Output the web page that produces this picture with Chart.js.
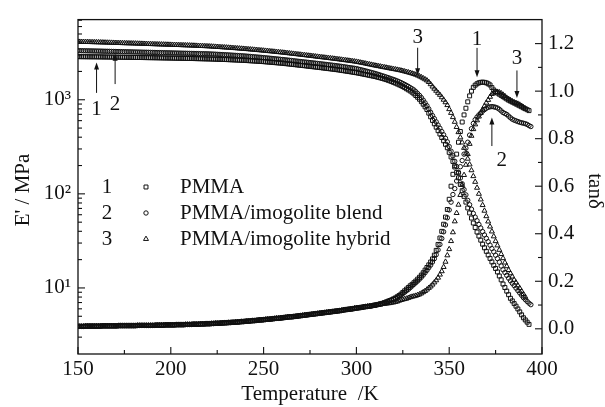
<!DOCTYPE html>
<html>
<head>
<meta charset="utf-8">
<script src="https://cdn.jsdelivr.net/npm/chart.js@4.4.1/dist/chart.umd.min.js"></script>
<style>
  html, body { margin: 0; padding: 0; background: #fff; }
  canvas { display: block; }
</style>
</head>
<body>
<canvas id="dma" width="605" height="407"></canvas>
<script>
// Dynamic mechanical analysis: storage modulus E' (log, left) and tan delta (right)
// for PMMA (1), PMMA/imogolite blend (2) and PMMA/imogolite hybrid (3).

const temperature = [
  150,151,152,153,154,155,156,157,158,159,
  160,161,162,163,164,165,166,167,168,169,
  170,171,172,173,174,175,176,177,178,179,
  180,181,182,183,184,185,186,187,188,189,
  190,191,192,193,194,195,196,197,198,199,
  200,201,202,203,204,205,206,207,208,209,
  210,211,212,213,214,215,216,217,218,219,
  220,221,222,223,224,225,226,227,228,229,
  230,231,232,233,234,235,236,237,238,239,
  240,241,242,243,244,245,246,247,248,249,
  250,251,252,253,254,255,256,257,258,259,
  260,261,262,263,264,265,266,267,268,269,
  270,271,272,273,274,275,276,277,278,279,
  280,281,282,283,284,285,286,287,288,289,
  290,291,292,293,294,295,296,297,298,299,
  300,301,302,303,304,305,306,307,308,309,
  310,311,312,313,314,315,316,317,318,319,
  320,321,322,323,324,325,326,327,328,329,
  330,331,332,333,334,335,336,337,338,339,
  340,341,342,343,344,345,346,347,348,349,
  350,351,352,353,354,355,356,357,358,359,
  360,361,362,363,364,365,366,367,368,369,
  370,371,372,373,374,375,376,377,378,379,
  380,381,382,383,384,385,386,387,388,389,
  390,391,392,393,394
];

// E' / MPa
const storagePMMA = [
  2871,2870,2868,2867,2866,2864,2863,2862,2860,2859,
  2858,2856,2854,2852,2850,2848,2846,2844,2842,2840,
  2838,2836,2834,2832,2830,2828,2826,2824,2822,2820,
  2818,2816,2814,2812,2810,2808,2806,2804,2802,2800,
  2799,2796,2794,2791,2789,2786,2783,2781,2778,2776,
  2773,2770,2768,2765,2763,2760,2758,2755,2753,2750,
  2748,2745,2742,2738,2735,2732,2729,2726,2722,2719,
  2716,2712,2708,2703,2699,2695,2690,2686,2682,2677,
  2673,2668,2662,2657,2651,2646,2640,2635,2629,2624,
  2618,2610,2603,2595,2587,2580,2572,2564,2556,2549,
  2541,2531,2521,2511,2502,2492,2482,2472,2462,2453,
  2443,2431,2419,2407,2395,2383,2371,2359,2347,2335,
  2323,2311,2299,2287,2275,2263,2251,2239,2227,2215,
  2203,2191,2178,2166,2154,2142,2129,2117,2105,2092,
  2080,2066,2051,2037,2022,2008,1994,1979,1965,1950,
  1936,1919,1902,1885,1868,1851,1834,1817,1800,1783,
  1766,1746,1726,1705,1684,1661,1638,1614,1588,1560,
  1531,1503,1472,1442,1413,1380,1346,1309,1274,1239,
  1202,1156,1109,1062,1012,955,897,841,787,721,
  659,603,555,511,469,432,397,366,336,309,
  276,247,221,193,169,148,126,108,94.0,81.7,
  70.8,62.7,55.3,49.0,43.9,39.3,35.6,32.2,29.2,26.7,
  24.5,22.4,20.6,18.9,17.4,16.1,14.8,13.4,12.2,11.0,
  10.1,9.25,8.47,7.76,7.28,6.82,6.40,5.98,5.57,5.18,
  4.82,4.57,4.33,4.10,null
];

const storageBlend = [
  3327,3324,3321,3318,3315,3312,3308,3305,3302,3299,
  3296,3292,3288,3284,3280,3277,3273,3269,3265,3262,
  3258,3254,3250,3247,3243,3239,3236,3232,3228,3225,
  3221,3217,3214,3210,3206,3203,3199,3195,3192,3188,
  3184,3180,3177,3173,3170,3166,3162,3159,3155,3152,
  3148,3144,3141,3137,3134,3130,3126,3123,3119,3116,
  3112,3108,3105,3101,3098,3094,3090,3087,3083,3080,
  3076,3069,3062,3055,3048,3041,3034,3027,3020,3013,
  3006,2997,2988,2979,2970,2962,2953,2944,2935,2926,
  2917,2906,2895,2884,2872,2861,2850,2839,2828,2816,
  2805,2792,2780,2767,2755,2742,2729,2717,2704,2692,
  2679,2666,2653,2640,2626,2613,2600,2587,2574,2560,
  2547,2534,2522,2509,2496,2484,2471,2459,2446,2434,
  2421,2408,2395,2382,2369,2356,2343,2330,2317,2304,
  2291,2276,2261,2247,2232,2217,2202,2187,2173,2158,
  2143,2119,2095,2071,2048,2024,2000,1976,1952,1929,
  1905,1879,1852,1826,1799,1773,1747,1720,1694,1667,
  1641,1614,1585,1556,1524,1489,1455,1419,1384,1346,
  1309,1271,1219,1164,1112,1054,991,927,865,800,
  736,679,630,582,538,498,459,424,390,357,
  318,284,254,222,195,170,147,128,111,97.5,
  85.3,76.6,68.7,61.9,56.6,51.8,47.3,43.4,39.7,36.6,
  33.7,31.0,28.5,26.2,24.2,22.3,20.5,18.8,17.1,15.6,
  14.6,13.6,12.7,11.9,11.2,10.6,9.95,9.38,8.85,8.36,
  7.89,7.53,7.19,6.89,6.64
];

const storageHybrid = [
  4130,4125,4121,4116,4111,4107,4102,4097,4092,4088,
  4083,4077,4070,4064,4057,4051,4044,4038,4031,4025,
  4018,4013,4007,4002,3996,3991,3985,3980,3974,3969,
  3963,3957,3950,3944,3937,3931,3925,3918,3912,3905,
  3899,3893,3887,3880,3874,3868,3862,3856,3849,3843,
  3837,3831,3825,3819,3813,3807,3800,3794,3788,3782,
  3776,3768,3760,3753,3745,3737,3729,3721,3714,3706,
  3698,3687,3676,3665,3654,3644,3633,3622,3611,3600,
  3589,3577,3565,3552,3540,3528,3516,3504,3491,3479,
  3467,3453,3439,3425,3411,3397,3383,3369,3355,3341,
  3327,3312,3297,3282,3267,3252,3237,3222,3207,3192,
  3177,3161,3144,3128,3111,3095,3079,3062,3046,3029,
  3013,2997,2981,2964,2948,2932,2916,2900,2883,2867,
  2851,2836,2820,2805,2790,2775,2759,2744,2729,2713,
  2698,2682,2665,2649,2633,2617,2600,2584,2568,2551,
  2535,2513,2490,2468,2446,2424,2401,2379,2357,2334,
  2312,2293,2273,2254,2234,2215,2196,2176,2157,2137,
  2118,2104,2084,2065,2046,2023,2000,1977,1954,1928,
  1901,1875,1845,1811,1774,1734,1690,1648,1603,1542,
  1462,1380,1309,1245,1183,1127,1062,1000,940,877,
  794,724,653,582,513,452,398,351,308,269,
  236,205,178,154,134,116,100,87.1,75.9,66.1,
  57.8,50.8,44.9,39.8,35.3,31.4,28.3,25.4,22.9,20.7,
  18.6,17.0,15.5,14.3,13.2,12.2,11.4,10.6,9.95,9.23,
  8.61,8.04,null,null,null
];

// tan delta, glassy region 150-309 K (the three samples coincide here)
const tanGlassy = [
  0.010,0.010,0.010,0.010,0.011,0.011,0.011,0.011,0.011,0.011,
  0.011,0.011,0.011,0.012,0.012,0.012,0.012,0.012,0.012,0.012,
  0.012,0.012,0.013,0.013,0.013,0.013,0.013,0.013,0.013,0.013,
  0.013,0.013,0.014,0.014,0.014,0.014,0.014,0.014,0.014,0.014,
  0.014,0.014,0.015,0.015,0.015,0.015,0.015,0.016,0.016,0.016,
  0.016,0.016,0.016,0.017,0.017,0.017,0.017,0.017,0.018,0.018,
  0.018,0.018,0.019,0.019,0.019,0.019,0.020,0.020,0.020,0.021,
  0.021,0.021,0.022,0.022,0.023,0.023,0.023,0.024,0.024,0.025,
  0.025,0.026,0.026,0.027,0.027,0.028,0.028,0.029,0.030,0.030,
  0.031,0.032,0.032,0.033,0.034,0.034,0.035,0.036,0.037,0.037,
  0.038,0.039,0.040,0.040,0.041,0.042,0.043,0.044,0.044,0.045,
  0.046,0.047,0.048,0.049,0.050,0.050,0.051,0.052,0.053,0.054,
  0.055,0.056,0.057,0.058,0.059,0.060,0.061,0.062,0.063,0.064,
  0.065,0.066,0.067,0.068,0.069,0.070,0.071,0.072,0.073,0.074,
  0.075,0.076,0.077,0.079,0.080,0.081,0.082,0.083,0.084,0.086,
  0.087,0.088,0.089,0.090,0.092,0.093,0.094,0.095,0.096,0.098
];

// tan delta, 310 K upwards
const tanPMMAHigh = [
  0.099,0.101,0.103,0.105,0.107,0.110,0.113,0.116,0.119,0.122,
  0.126,0.130,0.135,0.140,0.146,0.153,0.160,0.167,0.174,0.181,
  0.187,0.194,0.201,0.209,0.217,0.226,0.236,0.247,0.258,0.269,
  0.281,0.294,0.310,0.330,0.355,0.382,0.410,0.440,0.470,0.502,
  0.545,0.600,0.650,0.686,0.735,0.785,0.830,0.870,0.900,0.928,
  0.955,0.980,1.000,1.016,1.025,1.031,1.035,1.037,1.038,1.037,
  1.035,1.031,1.026,1.015,1.005,0.998,0.992,0.987,0.982,0.977,
  0.972,0.967,0.962,0.958,0.954,0.950,0.946,0.942,0.938,0.934,
  0.930,0.926,0.922,0.918,null
];

const tanBlendHigh = [
  0.099,0.101,0.103,0.105,0.107,0.109,0.112,0.115,0.118,0.121,
  0.124,0.128,0.132,0.137,0.142,0.148,0.154,0.160,0.166,0.173,
  0.180,0.187,0.194,0.201,0.209,0.217,0.226,0.236,0.246,0.257,
  0.268,0.281,0.295,0.312,0.332,0.355,0.380,0.408,0.437,0.467,
  0.500,0.533,0.565,0.590,0.622,0.655,0.682,0.708,0.735,0.760,
  0.785,0.815,0.842,0.864,0.880,0.891,0.900,0.908,0.916,0.922,
  0.928,0.932,0.934,0.935,0.934,0.932,0.929,0.924,0.917,0.910,
  0.906,0.902,0.895,0.888,0.882,0.878,0.875,0.872,0.869,0.867,
  0.865,0.863,0.860,0.855,0.851
];

const tanHybridHigh = [
  0.099,0.100,0.101,0.102,0.104,0.105,0.106,0.107,0.108,0.110,
  0.111,0.113,0.115,0.118,0.121,0.123,0.125,0.127,0.130,0.133,
  0.135,0.137,0.139,0.142,0.145,0.149,0.154,0.159,0.165,0.172,
  0.178,0.186,0.195,0.204,0.215,0.228,0.242,0.260,0.282,0.309,
  0.335,0.369,0.406,0.452,0.487,0.522,0.563,0.605,0.647,0.690,
  0.735,0.778,0.812,0.840,0.860,0.877,0.893,0.908,0.923,0.937,
  0.951,0.963,0.976,0.988,0.993,0.996,0.997,0.995,0.991,0.985,
  0.979,0.972,0.967,0.962,0.957,0.953,0.950,0.947,0.943,0.938,
  0.932,0.926,null,null,null
];

const tanPMMA = tanGlassy.concat(tanPMMAHigh);
const tanBlend = tanGlassy.concat(tanBlendHigh);
const tanHybrid = tanGlassy.concat(tanHybridHigh);

// axis ticks
const tempMajorTicks = [150, 200, 250, 300, 350, 400];
const tempMinorTicks = [175, 225, 275, 325, 375];
const modulusMajorTicks = [10, 100, 1000];
const modulusMinorTicks = [3,4,5,6,7,8,9, 20,30,40,50,60,70,80,90,
                           200,300,400,500,600,700,800,900, 2000,3000,4000,5000,6000,7000];
const tanMajorTicks = [0, 0.2, 0.4, 0.6, 0.8, 1.0, 1.2];
const tanMinorTicks = [0.1, 0.3, 0.5, 0.7, 0.9, 1.1];

// legend
const sampleKeys = ['1', '2', '3'];
const sampleNames = ['PMMA', 'PMMA/imogolite blend', 'PMMA/imogolite hybrid'];

// numbered arrows: temperature, axis, tail value, tip value, label position
const callouts = [
  { key: '1', t: 160,   axis: 'yE', tail: 1183, tip: 2490, lt: 160,   lv: 787 },
  { key: '2', t: 170,   axis: 'yE', tail: 1468, tip: 3090, lt: 170,   lv: 887 },
  { key: '3', t: 333,   axis: 'yE', tail: 3573, tip: 1824, lt: 333,   lv: 4540 },
  { key: '1', t: 365,   axis: 'yT', tail: 1.182, tip: 1.058, lt: 365,  lv: 1.219 },
  { key: '3', t: 386.5, axis: 'yT', tail: 1.087, tip: 0.971, lt: 386.5, lv: 1.137 },
  { key: '2', t: 373,   axis: 'yT', tail: 0.769, tip: 0.889, lt: 378.3, lv: 0.707 }
];

const serif = '"Liberation Serif", "Times New Roman", serif';
const ink = '#111';
const supDigits = { 1: '\u00B9', 2: '\u00B2', 3: '\u00B3' };
const markerRadius = { rect: 2.8, circle: 2.2, triangle: 2.9 };

function points(values) {
  const out = [];
  temperature.forEach((t, i) => {
    if (values[i] !== null && values[i] !== undefined) out.push({ x: t, y: values[i] });
  });
  return out;
}

function series(label, values, axis, style) {
  return {
    label,
    data: points(values),
    yAxisID: axis,
    showLine: false,
    pointStyle: style,
    pointRadius: markerRadius[style],
    pointHoverRadius: markerRadius[style],
    pointBorderWidth: 1,
    pointBorderColor: ink,
    pointBackgroundColor: 'rgba(0,0,0,0)'
  };
}

function drawMarker(ctx, style, x, y) {
  const r = markerRadius[style];
  ctx.beginPath();
  if (style === 'rect') {
    const s = r * Math.SQRT1_2;
    ctx.rect(x - s, y - s, 2 * s, 2 * s);
  } else if (style === 'circle') {
    ctx.arc(x, y, r, 0, Math.PI * 2);
  } else {
    ctx.moveTo(x, y - r);
    ctx.lineTo(x + r * Math.sin(Math.PI * 2 / 3), y - r * Math.cos(Math.PI * 2 / 3));
    ctx.lineTo(x + r * Math.sin(Math.PI * 4 / 3), y - r * Math.cos(Math.PI * 4 / 3));
    ctx.closePath();
  }
  ctx.stroke();
}

const decorations = {
  id: 'decorations',
  afterDatasetsDraw(chart) {
    const { ctx, chartArea: a, scales } = chart;
    const sx = scales.x, sE = scales.yE, sT = scales.yT;
    ctx.save();
    ctx.strokeStyle = ink;
    ctx.fillStyle = ink;

    // frame
    ctx.lineWidth = 1.3;
    ctx.strokeRect(a.left, a.top, a.right - a.left, a.bottom - a.top);

    // inward tick marks
    ctx.lineWidth = 1.1;
    const seg = (x1, y1, x2, y2) => { ctx.beginPath(); ctx.moveTo(x1, y1); ctx.lineTo(x2, y2); ctx.stroke(); };
    tempMajorTicks.forEach(v => { const p = sx.getPixelForValue(v); seg(p, a.bottom, p, a.bottom - 7); });
    tempMinorTicks.forEach(v => { const p = sx.getPixelForValue(v); seg(p, a.bottom, p, a.bottom - 4); });
    modulusMajorTicks.forEach(v => { const p = sE.getPixelForValue(v); seg(a.left, p, a.left + 7, p); });
    modulusMinorTicks.forEach(v => { const p = sE.getPixelForValue(v); if (p > a.top && p < a.bottom) seg(a.left, p, a.left + 4, p); });
    tanMajorTicks.forEach(v => { const p = sT.getPixelForValue(v); seg(a.right, p, a.right - 7, p); });
    tanMinorTicks.forEach(v => { const p = sT.getPixelForValue(v); seg(a.right, p, a.right - 4, p); });

    ctx.font = '21px ' + serif;
    ctx.textBaseline = 'middle';

    // legend
    const styles = ['rect', 'circle', 'triangle'];
    const rowY = [187, 213, 239];
    ctx.lineWidth = 1;
    sampleKeys.forEach((k, i) => {
      ctx.textAlign = 'center';
      ctx.fillText(k, 107, rowY[i]);
      drawMarker(ctx, styles[i], 146, rowY[i]);
      ctx.textAlign = 'left';
      ctx.fillText(sampleNames[i], 180, rowY[i]);
    });

    // numbered arrows
    ctx.lineWidth = 1;
    callouts.forEach(c => {
      const s = scales[c.axis];
      const x = sx.getPixelForValue(c.t);
      const y0 = s.getPixelForValue(c.tail);
      const y1 = s.getPixelForValue(c.tip);
      const dir = y1 > y0 ? 1 : -1;
      seg(x, y0, x, y1 - dir * 5);
      ctx.beginPath();
      ctx.moveTo(x, y1);
      ctx.lineTo(x - 2.5, y1 - dir * 7);
      ctx.lineTo(x + 2.5, y1 - dir * 7);
      ctx.closePath();
      ctx.fill();
      ctx.textAlign = 'center';
      ctx.fillText(c.key, sx.getPixelForValue(c.lt), s.getPixelForValue(c.lv));
    });

    // axis titles
    ctx.textAlign = 'center';
    ctx.textBaseline = 'alphabetic';
    ctx.fillText('Temperature  /K', (a.left + a.right) / 2, 400);

    ctx.save();
    ctx.translate(29, 190);
    ctx.rotate(-Math.PI / 2);
    ctx.fillText("E' / MPa", 0, 0);
    ctx.restore();

    ctx.save();
    ctx.translate(589, 191);
    ctx.rotate(Math.PI / 2);
    ctx.fillText('tan\u03B4', 0, 0);
    ctx.restore();

    ctx.restore();
  }
};

const tickFont = { family: serif, size: 21 };
const hiddenGrid = { display: false, drawTicks: false };

new Chart(document.getElementById('dma'), {
  type: 'scatter',
  data: {
    datasets: [
      series('1 PMMA E\'', storagePMMA, 'yE', 'rect'),
      series('2 PMMA/imogolite blend E\'', storageBlend, 'yE', 'circle'),
      series('3 PMMA/imogolite hybrid E\'', storageHybrid, 'yE', 'triangle'),
      series('1 PMMA tan\u03B4', tanPMMA, 'yT', 'rect'),
      series('2 PMMA/imogolite blend tan\u03B4', tanBlend, 'yT', 'circle'),
      series('3 PMMA/imogolite hybrid tan\u03B4', tanHybrid, 'yT', 'triangle')
    ]
  },
  options: {
    responsive: false,
    animation: false,
    devicePixelRatio: 1,
    layout: { padding: { top: 13, left: 0, right: 0, bottom: 0 } },
    plugins: { legend: { display: false }, tooltip: { enabled: false } },
    events: [],
    scales: {
      x: {
        type: 'linear', position: 'bottom', min: 150, max: 400, bounds: 'data',
        grid: hiddenGrid, border: { display: false },
        ticks: { font: tickFont, color: '#111', padding: 3, maxRotation: 0, autoSkip: false,
                 callback: v => String(v) },
        afterBuildTicks: s => { s.ticks = tempMajorTicks.map(v => ({ value: v })); },
        afterFit: s => { s.height = 53; }
      },
      yE: {
        type: 'logarithmic', position: 'left', min: 1.986, max: 7110, bounds: 'data',
        grid: hiddenGrid, border: { display: false },
        ticks: { font: tickFont, color: '#111', padding: 7, autoSkip: false,
                 callback: v => '10' + supDigits[Math.round(Math.log10(v))] },
        afterBuildTicks: s => { s.ticks = modulusMajorTicks.map(v => ({ value: v })); },
        afterFit: s => { s.width = 78; }
      },
      yT: {
        type: 'linear', position: 'right', min: -0.106, max: 1.301, bounds: 'data',
        grid: hiddenGrid, border: { display: false },
        ticks: { font: tickFont, color: '#111', padding: 6, autoSkip: false,
                 callback: v => v.toFixed(1) },
        afterBuildTicks: s => { s.ticks = tanMajorTicks.map(v => ({ value: v })); },
        afterFit: s => { s.width = 63; }
      }
    }
  },
  plugins: [decorations]
});
</script>
</body>
</html>
